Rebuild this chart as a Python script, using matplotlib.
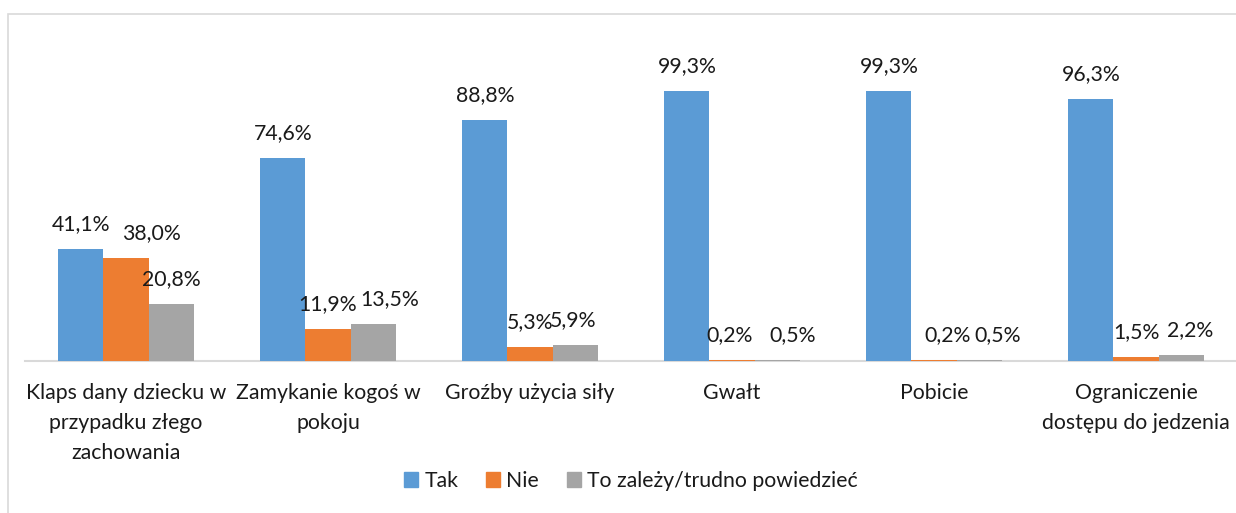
import matplotlib
matplotlib.use("Agg")
import matplotlib.pyplot as plt
import matplotlib.patches as mpatches
import numpy as np

categories = ["Klaps dany dziecku w\nprzypadku złego\nzachowania",
              "Zamykanie kogoś w\npokoju",
              "Groźby użycia siły",
              "Gwałt",
              "Pobicie",
              "Ograniczenie\ndostępu do jedzenia"]
series_names = ["Tak", "Nie", "To zależy/trudno powiedzieć"]
tak = [41.1, 74.6, 88.8, 99.3, 99.3, 96.3]
nie = [38.0, 11.9, 5.3, 0.2, 0.2, 1.5]
zalezy = [20.8, 13.5, 5.9, 0.5, 0.5, 2.2]
colors = ["#5B9BD5", "#ED7D31", "#A5A5A5"]

# horizontal label nudges (pixels) for labels moved off-centre in the original
label_dx = [
    [0, 0, 0, 0, 0, 0],
    [25, 0, 0, -2, 14, 0],
    [0, 17, -2, 16, 19, 9],
]

plt.rcParams['font.family'] = ['Lato', 'DejaVu Sans']
W, H = 1236, 513
fig = plt.figure(figsize=(W / 100, H / 100), dpi=100)
ax = fig.add_axes([25 / W, 152 / H, 1212 / W, 326 / H])

x = np.arange(len(categories))
bw = 0.2228
txtcol = "#1a1a1a"
fs = 15.3
for i, (vals, col) in enumerate(zip([tak, nie, zalezy], colors)):
    pos = x + (i - 1) * bw
    ax.bar(pos, vals, width=bw, color=col, label=series_names[i], zorder=2)
    for j, (p, v) in enumerate(zip(pos, vals)):
        ax.annotate(f"{v:.1f}%".replace(".", ","), (p, v),
                    xytext=(label_dx[i][j], 25), textcoords="offset pixels",
                    ha="center", va="center", fontsize=fs, color=txtcol)

ax.set_xlim(-0.5, 5.5)
ax.set_ylim(0, 120)
for s in ["top", "right", "left"]:
    ax.spines[s].set_visible(False)
ax.spines["bottom"].set_color("#d9d9d9")
ax.spines["bottom"].set_linewidth(1.5)
ax.spines["bottom"].set_zorder(1)
ax.set_yticks([])
ax.set_xticks(x)
ax.set_xticklabels(categories, fontsize=fs, color=txtcol, linespacing=1.63)
ax.tick_params(axis="x", length=0, pad=16)

handles = [mpatches.Patch(color=c) for c in colors]
fig.legend(handles, series_names, loc="center", ncol=3,
           bbox_to_anchor=(631 / W, 32 / H), frameon=False, fontsize=fs,
           handlelength=0.65, handleheight=0.65, handletextpad=0.3,
           columnspacing=1.3, labelcolor=txtcol)

border = mpatches.Rectangle((8 / W, -0.1), 1.2, (H - 14) / H + 0.1,
                            transform=fig.transFigure, fill=False,
                            edgecolor="#d9d9d9", linewidth=1.2)
fig.add_artist(border)

fig.savefig("out.png", dpi=100, facecolor="white")
